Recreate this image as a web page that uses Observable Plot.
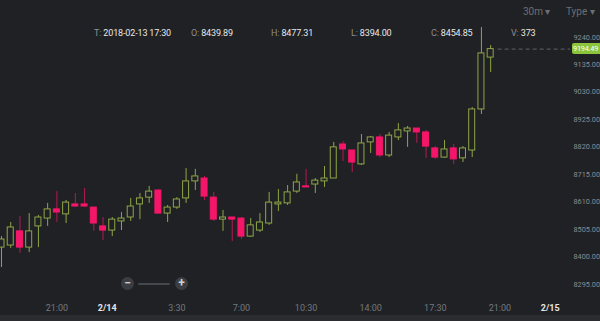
<!DOCTYPE html>
<html><head><meta charset="utf-8">
<script src="https://cdn.jsdelivr.net/npm/d3@7"></script>
<script src="https://cdn.jsdelivr.net/npm/@observablehq/plot@0.6"></script>
<style>
html,body{margin:0;padding:0;background:#1f2125;width:600px;height:321px;overflow:hidden;font-family:Roboto,"Noto Sans",sans-serif;}
#wrap{position:relative;width:600px;height:321px;}
#chart{position:absolute;left:0;top:0;}
.ov{position:absolute;white-space:nowrap;font-size:9px;letter-spacing:-0.15px;line-height:10px;}
.lab{color:#8b8e93;}
.val{color:#e8e8e8;}
.menu{position:absolute;top:6px;font-size:10px;color:#6c6f74;}
#strip{position:absolute;left:0;top:315px;width:600px;height:6px;background:#2a2c30;}
#tag{position:absolute;left:572px;width:28px;height:11px;background:#8cc43c;color:#fff;font-size:7.3px;line-height:11px;padding-left:1px;box-sizing:border-box;border-radius:2px 0 0 2px;letter-spacing:-0.2px;overflow:hidden;}
.zbtn{position:absolute;top:277px;width:13px;height:13px;border-radius:50%;background:#3a3d42;color:#cfcfcf;font-size:12px;line-height:13px;text-align:center;font-weight:bold;}
#zbar{position:absolute;left:138px;top:283px;width:32px;height:2px;background:#45484d;border-radius:1px;}
</style></head><body>
<div id="wrap">
  <div id="chart"></div>
  <div id="strip"></div>
  <div class="menu" style="left:523px">30m ▾</div>
  <div class="menu" style="left:566px">Type ▾</div>
  <div id="hdr"></div>
  <div class="zbtn" style="left:121px">−</div>
  <div id="zbar"></div>
  <div class="zbtn" style="left:175px">+</div>
  <div id="tag"></div>
</div>
<script>
// ---- data ----
const startTime = "2018-02-13T18:00:00Z"; // first visible 30m candle
const intervalMinutes = 30;
const opens  = [8436,8444,8498,8436,8517,8547,8582,8563,8601,8601,8589,8517,8501,8536,8551,8601,8627,8654,8566,8589,8624,8689,8700,8627,8543,8551,8547,8478,8501,8528,8601,8605,8650,8670,8677,8689,8700,8830,8807,8754,8838,8857,8788,8857,8880,8891,8876,8815,8780,8815,8777,8807,8964,9162];
const highs  = [8478,8532,8555,8566,8559,8605,8650,8616,8643,8662,8589,8551,8551,8570,8624,8643,8670,8658,8597,8627,8738,8735,8708,8647,8578,8551,8551,8547,8566,8647,8658,8673,8716,8735,8700,8746,8838,8841,8807,8868,8861,8868,8876,8910,8899,8891,8884,8822,8845,8830,8822,8971,9277,9208];
const lows   = [8360,8433,8414,8417,8436,8517,8532,8528,8589,8589,8498,8463,8478,8501,8536,8543,8605,8566,8532,8582,8605,8654,8616,8536,8498,8459,8467,8475,8494,8521,8574,8597,8643,8666,8643,8666,8700,8765,8723,8750,8796,8780,8780,8845,8819,8834,8777,8773,8777,8754,8761,8780,8945,9105];
const closes = [8467,8513,8436,8498,8551,8582,8570,8608,8593,8593,8528,8501,8543,8547,8593,8624,8650,8566,8589,8620,8689,8708,8631,8543,8551,8543,8478,8521,8532,8608,8608,8647,8685,8666,8692,8700,8819,8811,8761,8834,8857,8788,8864,8884,8891,8876,8822,8780,8811,8773,8815,8964,9178,9194.49];
const yTicks = [8295,8400,8505,8610,8715,8820,8925,9030,9135,9240];
const timeTicks = ["2018-02-13T21:00Z","2018-02-14T03:30Z","2018-02-14T07:00Z","2018-02-14T10:30Z","2018-02-14T14:00Z","2018-02-14T17:30Z","2018-02-14T21:00Z"];
const timeTickLabels = ["21:00","3:30","7:00","10:30","14:00","17:30","21:00"];
const dateTicks = ["2018-02-14T00:00Z","2018-02-15T00:00Z"];
const dateTickLabels = ["2/14","2/15"];
const xDomain = ["2018-02-13T17:56:45Z","2018-02-15T00:49:30Z"];
const yDomain = [8295,9240];
const infoLabels = ["T:","O:","H:","L:","C:","V:"];
const infoValues = ["2018-02-13 17:30","8439.89","8477.31","8394.00","8454.85","373"];

// ---- build ----
const t0 = new Date(startTime);
const rows = opens.map((o,i)=>({
  t: d3.utcMinute.offset(t0, i*intervalMinutes),
  o, h: highs[i], l: lows[i], c: closes[i], up: closes[i] >= o
}));
const green = "#8fa646", red = "#f5166a", bg = "#1f2125";
const half = 9.75*60000;
const last = rows[rows.length-1];
const fmtTick = (labels, ticks) => d => labels[ticks.findIndex(s => +new Date(s) === +d)];

const plot = Plot.plot({
  width: 600, height: 321,
  marginLeft: 0, marginRight: 30, marginTop: 0, marginBottom: 21,
  style: {background: "transparent", fontFamily: "Roboto, sans-serif", overflow: "visible"},
  x: {type: "utc", domain: xDomain.map(s => new Date(s))},
  y: {domain: yDomain, range: [284, 36.7]},
  color: {type: "identity"},
  marks: [
    Plot.ruleY([last.c], {x1: () => new Date(+last.t + 2.5*half), x2: () => new Date(xDomain[1]), stroke: "#5f6267", strokeDasharray: "4,3"}),
    Plot.ruleX(rows, {x: "t", y1: "l", y2: "h", stroke: d => d.up ? green : red, strokeOpacity: d => d.up ? 1 : 0.7}),
    Plot.rect(rows, {x1: d => new Date(+d.t - half), x2: d => new Date(+d.t + half), y1: "o", y2: "c",
      fill: d => d.up ? bg : red, stroke: d => d.up ? green : red, strokeWidth: 1}),
    Plot.axisY({anchor: "right", ticks: yTicks, tickFormat: d => d.toFixed(2), tickSize: 0, tickPadding: 3, fontSize: 7.3, fill: "#8a8d92", label: null}),
    Plot.axisX({ticks: timeTicks.map(s => new Date(s)), tickFormat: fmtTick(timeTickLabels, timeTicks), tickSize: 0, tickPadding: 4, fontSize: 9, fill: "#75787d", label: null}),
    Plot.axisX({ticks: dateTicks.map(s => new Date(s)), tickFormat: fmtTick(dateTickLabels, dateTicks), tickSize: 0, tickPadding: 4, fontSize: 9, fontWeight: "bold", fill: "#e6e6e6", dx: -5, label: null})
  ]
});
document.getElementById("chart").appendChild(plot);

// header info line
const hdr = document.getElementById("hdr");
const lefts = [94, 191, 271, 351, 431, 511];
infoLabels.forEach((l,i)=>{
  const d = document.createElement("div");
  d.className = "ov";
  d.style.left = lefts[i] + "px";
  d.style.top = "28px";
  d.innerHTML = `<span class="lab">${l}</span> <span class="val">${infoValues[i]}</span>`;
  hdr.appendChild(d);
});

// last price tag, positioned with the plot's y scale
const tag = document.getElementById("tag");
const ty = plot.scale("y").apply(last.c);
tag.style.top = (ty - 5.5) + "px";
tag.textContent = last.c.toFixed(2);
</script>
</body></html>
